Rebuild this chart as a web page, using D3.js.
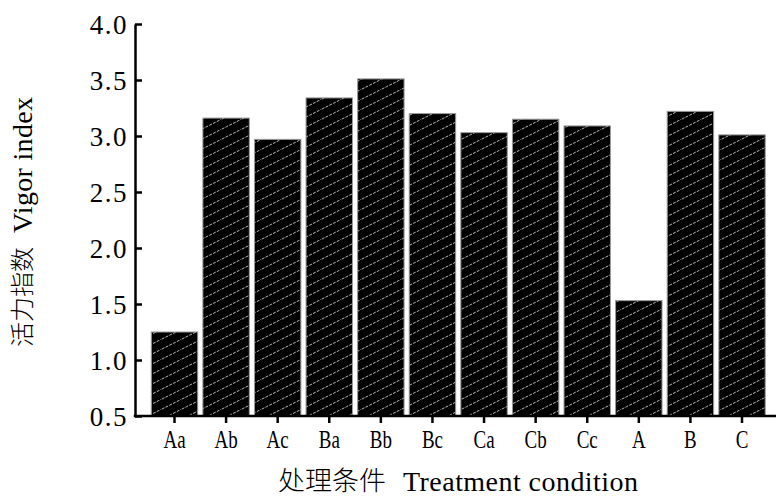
<!DOCTYPE html>
<html>
<head>
<meta charset="utf-8">
<script src="https://cdn.jsdelivr.net/npm/d3@7"></script>
<style>
  body { margin: 0; background: #fff; }
  svg { display: block; }
</style>
</head>
<body>
<svg id="chart" width="776" height="503"></svg>
<script>
// Vigor index per treatment condition
const categories = ["Aa", "Ab", "Ac", "Ba", "Bb", "Bc", "Ca", "Cb", "Cc", "A", "B", "C"];
const vigorIndex = [1.25, 3.16, 2.97, 3.34, 3.51, 3.20, 3.03, 3.15, 3.09, 1.53, 3.22, 3.01];
const yTicks = [0.5, 1.0, 1.5, 2.0, 2.5, 3.0, 3.5, 4.0];
const yTitleZh = "活力指数";
const yTitleEn = "Vigor index";
const xTitleZh = "处理条件";
const xTitleEn = "Treatment condition";

const W = 776, H = 503;
const axisLeftX = 135;
const svg = d3.select("#chart");

// diagonal hatch used on every bar
const defs = svg.append("defs");
const pat = defs.append("pattern")
  .attr("id", "hatch")
  .attr("patternUnits", "userSpaceOnUse")
  .attr("width", 20)
  .attr("height", 10);
pat.append("rect").attr("width", 20).attr("height", 10).attr("fill", "#000");
pat.append("line")
  .attr("x1", -2).attr("y1", 11).attr("x2", 22).attr("y2", -1)
  .attr("stroke", "#b4b4b4")
  .attr("stroke-width", 1)
  .attr("stroke-dasharray", "3 1.2");

const y = d3.scaleLinear().domain([0.5, 4.0]).range([416, 24]);
const x = d3.scaleBand()
  .domain(categories)
  .range([148.7, 767.8])
  .paddingInner(0.1)
  .paddingOuter(0.05);

// bars
svg.append("g")
  .selectAll("rect")
  .data(categories.map((c, i) => ({ c, v: vigorIndex[i] })))
  .join("rect")
  .attr("x", d => x(d.c))
  .attr("y", d => y(d.v))
  .attr("width", x.bandwidth())
  .attr("height", d => y(0.5) - y(d.v))
  .attr("fill", "url(#hatch)")
  .attr("stroke", "#9a9a9a")
  .attr("stroke-width", 1);

// y axis: ticks point inward
const yAxis = d3.axisLeft(y)
  .tickValues(yTicks)
  .tickFormat(d3.format(".1f"))
  .tickSizeInner(-7)
  .tickSizeOuter(0)
  .tickPadding(7);

const gy = svg.append("g")
  .attr("transform", `translate(${axisLeftX},0)`)
  .call(yAxis);
gy.select(".domain").attr("stroke", "#000").attr("stroke-width", 2.5);
gy.selectAll(".tick line").attr("stroke", "#000").attr("stroke-width", 2.5);
gy.selectAll(".tick text")
  .attr("fill", "#000")
  .attr("font-family", "'Liberation Serif', 'DejaVu Serif', serif")
  .attr("font-size", 27)
  .attr("letter-spacing", 1.5)
  .attr("dy", "0.34em");

// x axis: ticks point outward
const xAxis = d3.axisBottom(x).tickSizeInner(7).tickSizeOuter(0).tickPadding(6);
const gx = svg.append("g")
  .attr("transform", `translate(0,${y(0.5)})`)
  .call(xAxis);
gx.select(".domain").remove();
gx.selectAll(".tick line").attr("stroke", "#000").attr("stroke-width", 2.5);
gx.selectAll(".tick text")
  .attr("fill", "#000")
  .attr("font-family", "'Liberation Serif', 'DejaVu Serif', serif")
  .attr("font-size", 25)
  .attr("y", 32)
  .attr("dy", 0)
  .attr("transform", "scale(0.76,1)");
gx.append("line")
  .attr("x1", axisLeftX - 1.25).attr("x2", W)
  .attr("y1", 0).attr("y2", 0)
  .attr("stroke", "#000").attr("stroke-width", 2.5);

// axis titles
const cjkFont = "'Noto Sans CJK SC', sans-serif";
const latinFont = "'Liberation Serif', 'DejaVu Serif', serif";

svg.append("text")
  .attr("x", 278).attr("y", 490)
  .attr("font-family", cjkFont).attr("font-size", 26).attr("font-weight", 300)
  .attr("textLength", 108).attr("lengthAdjust", "spacingAndGlyphs")
  .text(xTitleZh);
svg.append("text")
  .attr("x", 403).attr("y", 491)
  .attr("font-family", latinFont).attr("font-size", 28)
  .attr("textLength", 235).attr("lengthAdjust", "spacing")
  .text(xTitleEn);

const yt = svg.append("g").attr("transform", "translate(32,0) rotate(-90)");
yt.append("text")
  .attr("x", -347).attr("y", -1)
  .attr("font-family", cjkFont).attr("font-size", 24).attr("font-weight", 300)
  .attr("textLength", 100).attr("lengthAdjust", "spacingAndGlyphs")
  .text(yTitleZh);
yt.append("text")
  .attr("x", -233).attr("y", 0)
  .attr("font-family", latinFont).attr("font-size", 28)
  .attr("textLength", 136).attr("lengthAdjust", "spacing")
  .text(yTitleEn);
</script>
</body>
</html>
